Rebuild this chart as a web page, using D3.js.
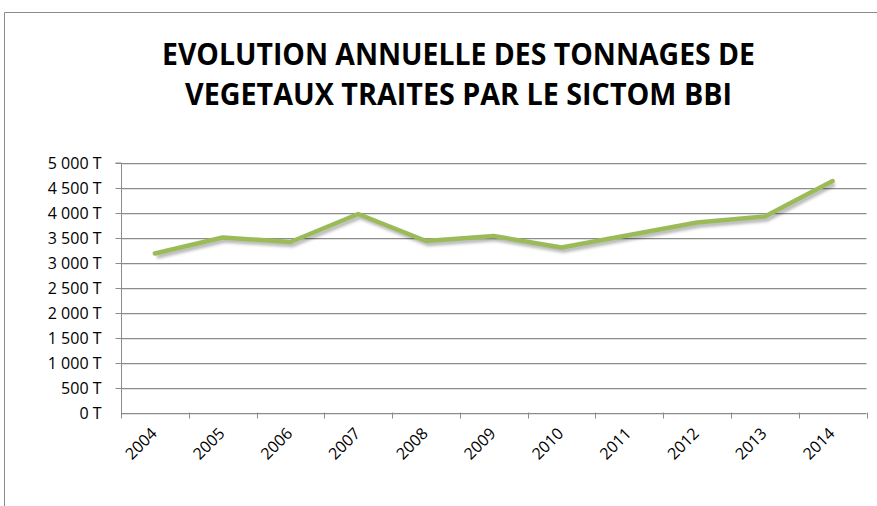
<!DOCTYPE html>
<html><head><meta charset="utf-8">
<script src="https://cdn.jsdelivr.net/npm/d3@7"></script>
<style>html,body{margin:0;padding:0;background:#fff;}svg{display:block;}
.lbl{font-family:'Open Sans',sans-serif;font-size:16px;fill:#000;}
.ttl{font-family:'Open Sans',sans-serif;font-size:31px;font-weight:700;fill:#000;}
</style>
</head><body>
<script>
const years = ["2004","2005","2006","2007","2008","2009","2010","2011","2012","2013","2014"];
const tonnages = [3180, 3500, 3410, 3970, 3430, 3530, 3300, 3550, 3800, 3920, 4630];
const yTicks = [0,500,1000,1500,2000,2500,3000,3500,4000,4500,5000];
const titleLines = ["EVOLUTION ANNUELLE DES TONNAGES DE","VEGETAUX TRAITES PAR LE SICTOM BBI"];

const W = 877, H = 506;
const svg = d3.select("body").append("svg").attr("width", W).attr("height", H);
const defs = svg.append("defs");
const f = defs.append("filter").attr("id","sh").attr("x","-10%").attr("y","-50%").attr("width","120%").attr("height","200%");
f.append("feGaussianBlur").attr("stdDeviation", 1.5);

// outer frame
svg.append("path").attr("d", `M4.5,${H} V12.5 H${W}`).attr("fill","none").attr("stroke","#8a8a8a").attr("stroke-width",1);

// title
const tl = [[162,755,65],[185,732,105]];
titleLines.forEach((t,i)=>{
  svg.append("text").attr("class","ttl").attr("x", tl[i][0]).attr("y", tl[i][2])
    .attr("textLength", tl[i][1]-tl[i][0]).attr("lengthAdjust","spacingAndGlyphs")
    .text(t);
});

const x0 = 121, x1 = 866.5, y0 = 412.5, y1 = 162.5;
const x = d3.scaleBand().domain(years).range([x0, x1]);
const y = d3.scaleLinear().domain([0, 5000]).range([y0, y1]);

// gridlines
svg.append("g").selectAll("line").data(yTicks).join("line")
  .attr("x1", x0).attr("x2", x1).attr("y1", d=>Math.round(y(d))+0.5).attr("y2", d=>Math.round(y(d))+0.5)
  .attr("stroke","#8c8c8c").attr("stroke-width",1);
svg.append("g").selectAll("line").data(yTicks).join("line")
  .attr("x1", x0).attr("x2", x1).attr("y1", d=>Math.round(y(d))+1.5).attr("y2", d=>Math.round(y(d))+1.5)
  .attr("stroke","#e2e2e2").attr("stroke-width",1);

// y axis
const yAxis = d3.axisLeft(y).tickValues(yTicks).tickSize(6).tickPadding(14)
  .tickFormat(d => d3.format(",")(d).replace(/,/g," ") + " T");
const gy = svg.append("g").attr("transform", `translate(${x0+0.5},0.5)`).call(yAxis);
gy.attr("font-size", null).attr("font-family", null);
gy.select(".domain").attr("stroke","#8c8c8c").attr("d", `M-6,${y1}H0V${y0}`);
gy.selectAll(".tick line").attr("stroke","#8c8c8c");
gy.selectAll(".tick text").attr("class","lbl").attr("fill",null);
gy.selectAll(".tick").filter(d=>d===0).select("line").remove();

// x axis
const xAxis = d3.axisBottom(x).tickSize(0).tickPadding(0);
const gx = svg.append("g").attr("transform", `translate(0,${y0})`).call(xAxis);
gx.attr("font-size", null).attr("font-family", null);
gx.select(".domain").remove();
gx.selectAll(".tick text").attr("class","lbl").attr("fill",null)
  .attr("text-anchor","end").attr("dy", 0)
  .attr("transform","translate(3,22) rotate(-45)");
const bounds = years.map(d=>x(d)).concat([x1]);
svg.append("g").selectAll("line").data(bounds).join("line")
  .attr("x1", d=>Math.round(d)+0.5).attr("x2", d=>Math.round(d)+0.5)
  .attr("y1", y0).attr("y2", y0+6).attr("stroke","#8c8c8c");

// line
const line = d3.line().x((d,i)=>x(years[i]) + x.bandwidth()/2).y(d=>y(d));
svg.append("path").datum(tonnages).attr("d", line)
  .attr("transform","translate(2,3)")
  .attr("fill","none").attr("stroke","#000").attr("stroke-opacity",0.28).attr("stroke-width",4.5)
  .attr("stroke-linejoin","round").attr("filter","url(#sh)");
svg.append("path").datum(tonnages).attr("d", line)
  .attr("fill","none").attr("stroke","#9bbb59").attr("stroke-width",4.5)
  .attr("stroke-linejoin","round").attr("stroke-linecap","round");
</script>
</body></html>
